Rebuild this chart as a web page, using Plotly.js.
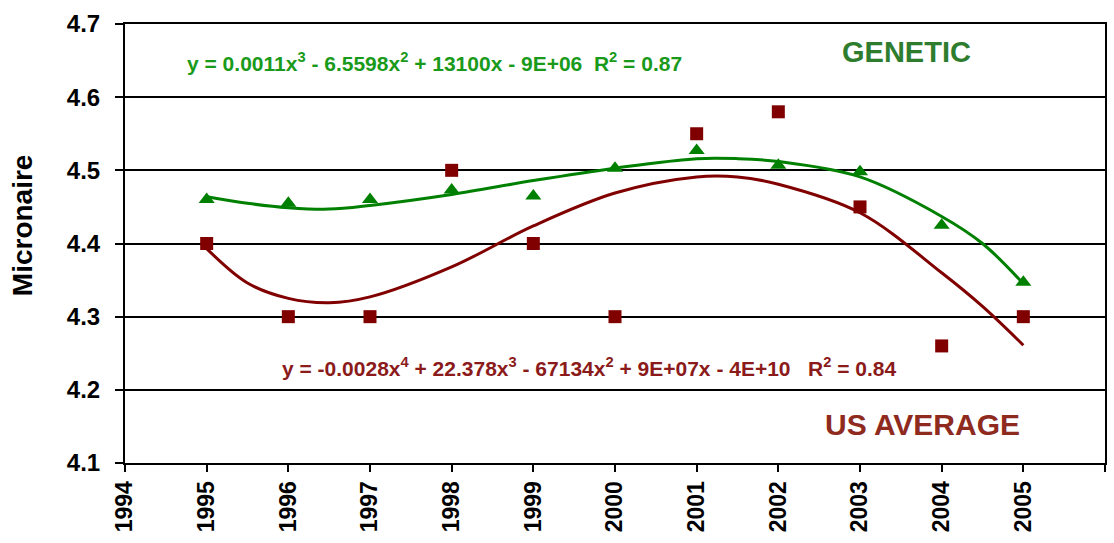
<!DOCTYPE html>
<html><head><meta charset="utf-8">
<script src="https://cdn.plot.ly/plotly-3.0.1.min.js"></script>
<style>body{margin:0;background:#fff}#c{width:1114px;height:543px}</style>
</head><body><div id="c"></div>
<script>
const years = [1995,1996,1997,1998,1999,2000,2001,2002,2003,2004,2005];
const genetic = [4.46,4.455,4.46,4.473,4.465,4.503,4.527,4.507,4.498,4.425,4.347];
const usAverage = [4.40,4.30,4.30,4.50,4.40,4.30,4.55,4.58,4.45,4.26,4.30];
// trendline curves
const trendX = [1995,1995.5,1996,1996.5,1997,1998,1999,2000,2001,2001.5,2002,2003,2004,2004.5,2005];
const geneticTrend = [4.464,4.455,4.449,4.447,4.452,4.467,4.486,4.503,4.516,4.516,4.512,4.491,4.437,4.40,4.345];
const usTrend = [4.393,4.346,4.325,4.319,4.327,4.368,4.424,4.469,4.491,4.491,4.481,4.442,4.36,4.314,4.261];
const xTicks = [1994,1995,1996,1997,1998,1999,2000,2001,2002,2003,2004,2005,2006];
const yTicks = [4.1,4.2,4.3,4.4,4.5,4.6,4.7];

const GREEN = '#008000', RED = '#800000';
const FONT = 'Liberation Sans, Arial, sans-serif';

const traces = [
  {x: trendX, y: geneticTrend, mode:'lines', line:{color:GREEN, width:3, shape:'spline'}, hoverinfo:'skip'},
  {x: trendX, y: usTrend, mode:'lines', line:{color:RED, width:3, shape:'spline'}, hoverinfo:'skip'},
  {x: years, y: genetic, mode:'markers', marker:{symbol:'triangle-up', size:14, color:GREEN}},
  {x: years, y: usAverage, mode:'markers', marker:{symbol:'square', size:13, color:RED}}
];

const layout = {
  width:1114, height:543,
  margin:{l:125, r:9, t:24, b:80},
  showlegend:false,
  paper_bgcolor:'#fff', plot_bgcolor:'#fff',
  font:{family:FONT, color:'#000'},
  xaxis:{range:[1994,2006], tickvals:xTicks, ticktext:xTicks.map(v => '<b>'+v+'</b>'), tickangle:-90,
    showgrid:false, zeroline:false, showline:true, linecolor:'#000', linewidth:2, mirror:true,
    ticks:'outside', ticklen:7, tickwidth:2, tickcolor:'#000',
    tickfont:{family:FONT, size:23, color:'#000'}},
  yaxis:{range:[4.1,4.7], tickvals:yTicks, ticktext:yTicks.map(v => '<b>'+v.toFixed(1)+'</b>'),
    showgrid:true, gridcolor:'#000', gridwidth:2, zeroline:false,
    showline:true, linecolor:'#000', linewidth:2, mirror:true,
    ticks:'outside', ticklen:8, tickwidth:2, tickcolor:'#000', ticklabelstandoff:10,
    tickfont:{family:FONT, size:24, color:'#000'}},
  annotations:[
    {x:-0.105, y:0.542, xref:'paper', yref:'paper', xanchor:'center', yanchor:'middle', showarrow:false,
     textangle:-90, text:'<b>Micronaire</b>', font:{family:FONT, size:28, color:'#000'}},
    {x:1994.73, y:4.648, xref:'x', yref:'y', xanchor:'left', yanchor:'middle', showarrow:false,
     text:'<b>y = 0.0011x<sup>3</sup> - 6.5598x<sup>2</sup> + 13100x - 9E+06  R<sup>2</sup> = 0.87</b>',
     font:{family:FONT, size:21, color:'#1a9a1a'}},
    {x:2003.57, y:4.662, xref:'x', yref:'y', xanchor:'center', yanchor:'middle', showarrow:false,
     text:'<b>GENETIC</b>', font:{family:FONT, size:29, color:'#2e7d2e'}},
    {x:1995.9, y:4.231, xref:'x', yref:'y', xanchor:'left', yanchor:'middle', showarrow:false,
     text:'<b>y = -0.0028x<sup>4</sup> + 22.378x<sup>3</sup> - 67134x<sup>2</sup> + 9E+07x - 4E+10   R<sup>2</sup> = 0.84</b>',
     font:{family:FONT, size:21, color:'#8b1a1a'}},
    {x:2003.77, y:4.152, xref:'x', yref:'y', xanchor:'center', yanchor:'middle', showarrow:false,
     text:'<b>US AVERAGE</b>', font:{family:FONT, size:30, color:'#8e2a1e'}}
  ]
};
Plotly.newPlot('c', traces, layout, {staticPlot:true, displayModeBar:false});
</script></body></html>
